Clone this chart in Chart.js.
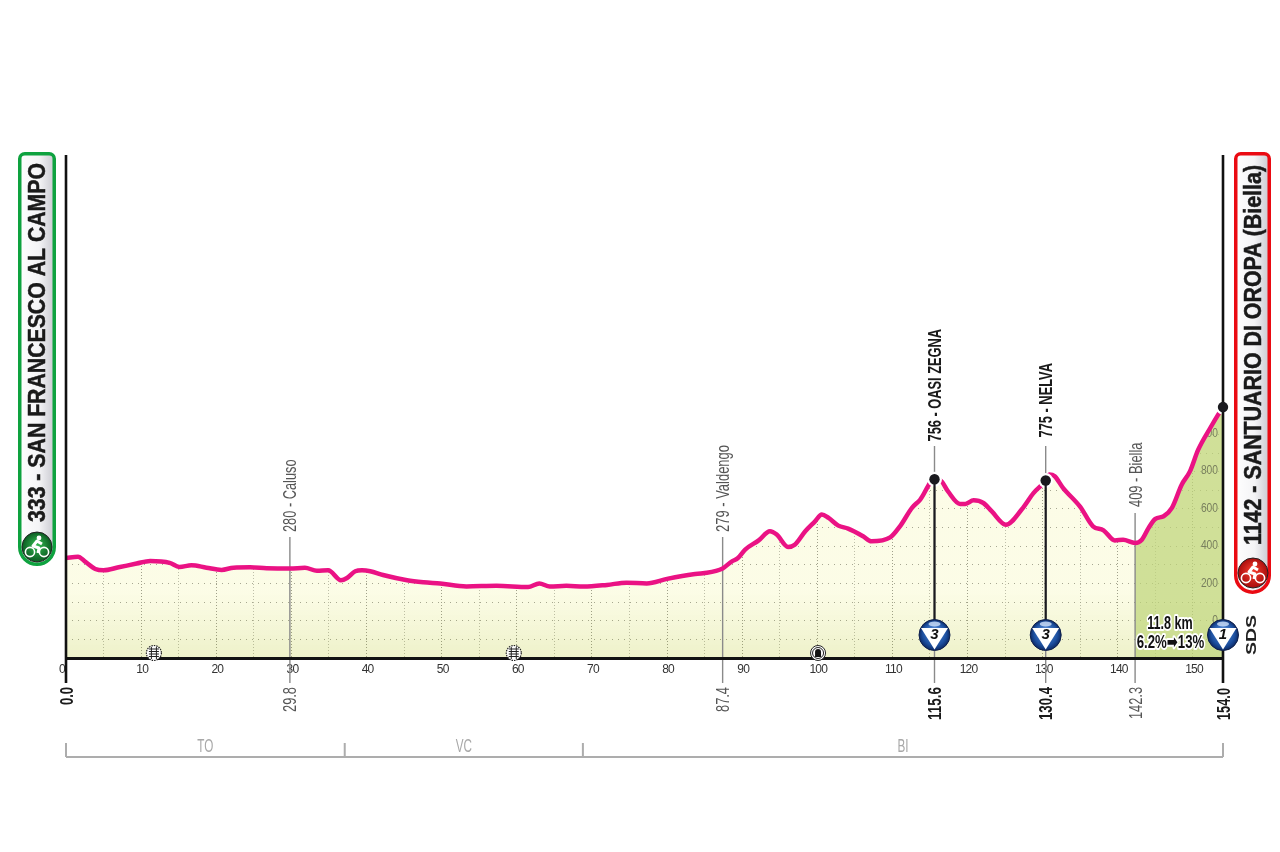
<!DOCTYPE html>
<html>
<head>
<meta charset="utf-8">
<title>Altimetria</title>
<script src="https://cdn.jsdelivr.net/npm/chart.js@4/dist/chart.umd.min.js"></script>
<style>
    html, body { margin: 0; padding: 0; background: #fff; }
    canvas { display: block; }
</style>
</head>
<body>
<canvas id="profile" width="1280" height="852"></canvas>
<script>
// Elevation profile: km from start / metres
const profileKm = [0, 1.6, 2.5, 3.9, 5, 7, 9.4, 11.2, 13.8, 15.1, 16.7, 18.7, 20.7, 22.3, 24.5, 26.7, 29.8, 31.8, 33.4, 34.9, 36.6, 37.4, 38.5, 39.4, 40.5, 42.2, 45.4, 47.6, 49.8, 53.3, 57.3, 61.5, 63, 64.4, 66.6, 68.9, 72, 74.6, 77.3, 80, 83.5, 84.8, 87.4, 88.6, 89.4, 90.4, 92.2, 93.7, 94.6, 96.1, 97, 98.4, 99.7, 100.6, 101.5, 102.8, 104.1, 106.1, 107.2, 109.7, 111, 112.6, 113.7, 115.6, 116.4, 117.4, 119, 119.7, 120.8, 122.1, 123.2, 125.1, 127.2, 128.8, 130.4, 130.9, 131.6, 132.7, 135, 136.7, 138.1, 139.6, 140.7, 142.3, 143.2, 144.1, 145, 146.1, 147.2, 148.5, 149.6, 150.7, 152.3, 153.5, 154];
const profileElev = [335, 342, 317, 276, 269, 285, 305, 319, 309, 287, 296, 283, 271, 283, 285, 280, 278, 283, 266, 269, 216, 228, 264, 269, 264, 244, 216, 205, 198, 183, 186, 180, 199, 182, 186, 182, 191, 203, 199, 223, 248, 253, 279, 316, 333, 380, 429, 478, 460, 394, 406, 478, 531, 568, 549, 508, 492, 451, 424, 445, 504, 603, 647, 756, 750, 691, 624, 624, 643, 629, 585, 513, 594, 683, 749, 782, 772, 710, 608, 504, 483, 429, 432, 415, 433, 496, 544, 558, 603, 727, 798, 914, 1030, 1111, 1142];

// Places along the route
const placeKm = [29.8, 87.4, 115.6, 130.4, 142.3];
const placeNames = ['280 - Caluso', '279 - Valdengo', '756 - OASI ZEGNA', '775 - NELVA', '409 - Biella'];
const placeKmLabels = ['29.8', '87.4', '115.6', '130.4', '142.3'];

// Summit dots
const summitKm = [115.6, 130.4, 154];
const summitElev = [756, 749, 1142];

// GPM climbs: category badge at the km
const climbKm = [115.6, 130.4, 154];
const climbCat = ['3', '3', '1'];

// Final climb band and provinces
const finalClimbStart = 142.3;
const provinceBreaks = [0, 37.1, 68.8, 154];
const provinceNames = ['TO', 'VC', 'BI'];

const railKm = [11.7, 59.6];
const tunnelKm = [100.1];

const xStep = 5;
const yStep = 100;
const altitudeTicks = [0, 200, 400, 600, 800, 1000];

const FONT = '"Liberation Sans", Arial, sans-serif';
const MAGENTA = '#ea1284';

const toPoints = (xs, ys) => xs.map((x, i) => ({ x, y: ys[i] }));
const allPoints = toPoints(profileKm, profileElev);

function creamFill(c) {
    const area = c.chart.chartArea;
    if (!area) return '#fdfdec';
    const g = c.chart.ctx.createLinearGradient(0, 470, 0, area.bottom);
    g.addColorStop(0, 'rgba(250,250,212,.55)');
    g.addColorStop(0.65, 'rgba(249,250,210,.55)');
    g.addColorStop(1, 'rgba(226,232,165,.6)');
    return g;
}

// Vertical text reading bottom to top; squeezed along its length to the measured size.
// The reference face is condensed and none of the installed ones is.
function vText(ctx, text, baseX, bottomY, length, font, color, thicken) {
    ctx.save();
    ctx.font = font;
    ctx.fillStyle = color;
    ctx.textAlign = 'left';
    ctx.textBaseline = 'alphabetic';
    ctx.translate(baseX, bottomY);
    ctx.rotate(-Math.PI / 2);
    ctx.scale(length / ctx.measureText(text).width, 1);
    ctx.fillText(text, 0, 0);
    if (thicken) {
        ctx.lineWidth = thicken;
        ctx.strokeStyle = color;
        ctx.strokeText(text, 0, 0);
    }
    ctx.restore();
}

function drawPill(ctx, x, y, w, h, border) {
    const g = ctx.createLinearGradient(x, 0, x + w, 0);
    g.addColorStop(0, '#ffffff');
    g.addColorStop(0.55, '#f4f4f6');
    g.addColorStop(1, '#c4c4cc');
    ctx.beginPath();
    ctx.roundRect(x + 1.75, y + 1.75, w - 3.5, h - 3.5, [5, 5, (w - 3.5) / 2, (w - 3.5) / 2]);
    ctx.fillStyle = g;
    ctx.fill();
    ctx.lineWidth = 3.5;
    ctx.strokeStyle = border;
    ctx.stroke();
}

function drawBikeBadge(ctx, x, y, light, dark) {
    const g = ctx.createRadialGradient(x, y - 3, 2, x, y, 15);
    g.addColorStop(0, light);
    g.addColorStop(1, dark);
    ctx.save();
    ctx.beginPath();
    ctx.arc(x, y, 15, 0, Math.PI * 2);
    ctx.fillStyle = g;
    ctx.fill();
    ctx.lineWidth = 1;
    ctx.strokeStyle = '#222';
    ctx.stroke();
    ctx.strokeStyle = '#fff';
    ctx.fillStyle = '#fff';
    ctx.lineWidth = 1.6;
    [-7, 7].forEach((dx) => {
        ctx.beginPath();
        ctx.arc(x + dx, y + 5, 4.6, 0, Math.PI * 2);
        ctx.stroke();
    });
    ctx.beginPath();
    ctx.arc(x + 2, y - 9, 2.4, 0, Math.PI * 2);
    ctx.fill();
    ctx.lineWidth = 3;
    ctx.lineJoin = 'round';
    ctx.beginPath();
    ctx.moveTo(x + 5, y - 3);
    ctx.lineTo(x, y - 6);
    ctx.lineTo(x - 4, y - 1);
    ctx.lineTo(x + 2, y + 1);
    ctx.lineTo(x + 1, y + 6);
    ctx.stroke();
    ctx.restore();
}

function drawClimbBadge(ctx, x, y, cat) {
    const r = 15.5;
    const g = ctx.createRadialGradient(x, y - 4, 3, x, y, r);
    g.addColorStop(0, '#4f86d2');
    g.addColorStop(0.7, '#1c4f9f');
    g.addColorStop(1, '#0c2a66');
    ctx.save();
    ctx.beginPath();
    ctx.arc(x, y, r, 0, Math.PI * 2);
    ctx.fillStyle = g;
    ctx.fill();
    ctx.lineWidth = 1;
    ctx.strokeStyle = '#10204a';
    ctx.stroke();
    ctx.beginPath();
    ctx.ellipse(x, y - 11, 6, 2.5, 0, 0, Math.PI * 2);
    ctx.fillStyle = 'rgba(220,235,255,.75)';
    ctx.fill();
    ctx.beginPath();
    ctx.moveTo(x - 13.5, y - 7);
    ctx.lineTo(x + 13.5, y - 7);
    ctx.lineTo(x, y + 14.5);
    ctx.closePath();
    ctx.fillStyle = '#fff';
    ctx.fill();
    ctx.fillStyle = '#111';
    ctx.font = 'italic bold 15px ' + FONT;
    ctx.textAlign = 'center';
    ctx.textBaseline = 'middle';
    ctx.fillText(cat, x, y);
    ctx.restore();
}

function drawRailIcon(ctx, x, y) {
    ctx.save();
    ctx.beginPath();
    ctx.arc(x, y, 7.5, 0, Math.PI * 2);
    ctx.fillStyle = '#fff';
    ctx.fill();
    ctx.lineWidth = 1.2;
    ctx.strokeStyle = '#222';
    ctx.setLineDash([1.5, 1]);
    ctx.stroke();
    ctx.setLineDash([]);
    ctx.lineWidth = 1;
    [-2.5, 2.5].forEach((dx) => {
        ctx.beginPath();
        ctx.moveTo(x + dx, y - 6);
        ctx.lineTo(x + dx, y + 6);
        ctx.stroke();
    });
    [-4, -1.5, 1, 3.5].forEach((dy) => {
        ctx.beginPath();
        ctx.moveTo(x - 5, y + dy);
        ctx.lineTo(x + 5, y + dy);
        ctx.stroke();
    });
    ctx.restore();
}

function drawTunnelIcon(ctx, x, y) {
    ctx.save();
    ctx.beginPath();
    ctx.arc(x, y, 7.5, 0, Math.PI * 2);
    ctx.fillStyle = '#fff';
    ctx.fill();
    ctx.lineWidth = 1;
    ctx.strokeStyle = '#222';
    ctx.stroke();
    ctx.beginPath();
    ctx.arc(x, y, 5.5, 0, Math.PI * 2);
    ctx.stroke();
    ctx.beginPath();
    ctx.moveTo(x - 3, y + 4);
    ctx.lineTo(x - 3, y - 1);
    ctx.arc(x, y - 1, 3, Math.PI, 0);
    ctx.lineTo(x + 3, y + 4);
    ctx.closePath();
    ctx.fillStyle = '#111';
    ctx.fill();
    ctx.restore();
}

// Tick labels are drawn with the scales, before the datasets: tighten just those
const tightTicks = {
    id: 'tightTicks',
    beforeDraw(chart) { chart.ctx.letterSpacing = '-0.8px'; },
    beforeDatasetsDraw(chart) { chart.ctx.letterSpacing = '0px'; },
};

// Altitude labels go over the green fill but under the white mask, which hides the "1" of 1000
const altitudeLabels = {
    id: 'altitudeLabels',
    afterDatasetDraw(chart, args) {
        if (args.index !== 1) return;
        const { ctx, scales } = chart;
        ctx.save();
        ctx.font = '12.5px ' + FONT;
        ctx.fillStyle = '#787f5e';
        ctx.textAlign = 'right';
        ctx.textBaseline = 'middle';
        altitudeTicks.forEach((v) => {
            ctx.save();
            ctx.translate(scales.x.right - 5, scales.y.getPixelForValue(v));
            ctx.scale(0.82, 1);
            ctx.fillText(String(v), 0, 0);
            ctx.restore();
        });
        ctx.restore();
    },
};

// Leader lines sit under the magenta line, so they go in just before it is drawn
const leaderLines = {
    id: 'leaderLines',
    beforeDatasetDraw(chart, args) {
        if (args.index !== 0) return;
        const { ctx, scales } = chart;
        const tops = [537, 537, 446, 446, 513];
        ctx.save();
        placeKm.forEach((km, i) => {
            const x = scales.x.getPixelForValue(km);
            ctx.beginPath();
            ctx.moveTo(x, tops[i]);
            ctx.lineTo(x, 683);
            ctx.lineWidth = 1.4;
            ctx.strokeStyle = '#8a8a8a';
            ctx.stroke();
        });
        ctx.restore();
    },
};

const decorations = {
    id: 'decorations',
    afterDraw(chart) {
        const { ctx, scales } = chart;
        const px = (km) => scales.x.getPixelForValue(km);

        // start and finish posts
        ctx.save();
        ctx.strokeStyle = '#111';
        ctx.lineWidth = 2.6;
        [0, 154].forEach((km) => {
            ctx.beginPath();
            ctx.moveTo(px(km), 155);
            ctx.lineTo(px(km), 683);
            ctx.stroke();
        });
        // thick stems from summit dots to badges
        ctx.lineWidth = 2.2;
        ctx.strokeStyle = '#1a1a1f';
        climbKm.slice(0, 2).forEach((km, i) => {
            ctx.beginPath();
            ctx.moveTo(px(km), scales.y.getPixelForValue(summitElev[i]));
            ctx.lineTo(px(km), 622);
            ctx.stroke();
        });
        ctx.restore();

        // summit dots again above the posts
        summitKm.forEach((km, i) => {
            ctx.beginPath();
            ctx.arc(px(km), scales.y.getPixelForValue(summitElev[i]), 5.2, 0, Math.PI * 2);
            ctx.fillStyle = '#1a1a1f';
            ctx.fill();
        });

        // start / finish pills
        drawPill(ctx, 18, 152, 38, 414, '#0ea23f');
        drawPill(ctx, 1234, 152, 37, 442, '#ea0a12');
        vText(ctx, '333 - SAN FRANCESCO AL CAMPO', 45, 522, 359, 'bold 23px ' + FONT, '#1a1a1a', 0.5);
        vText(ctx, '1142 - SANTUARIO DI OROPA (Biella)', 1261, 545, 380, 'bold 23px ' + FONT, '#1a1a1a', 0.5);
        drawBikeBadge(ctx, 37, 547, '#2fb24c', '#0b5a22');
        drawBikeBadge(ctx, 1253, 573, '#f0382a', '#a80d0d');

        // place names above, km below
        const strong = [false, false, true, true, false];
        const nameLen = [72.5, 87, 112.5, 74.5, 64.5];
        const kmLen = [25, 25, 33, 33, 32];
        const nameBottom = [532, 532, 441.5, 437.5, 507];
        placeKm.forEach((km, i) => {
            const x = px(km) + 6.5;
            const font = (strong[i] ? 'bold ' : '') + '19px ' + FONT;
            const color = strong[i] ? '#1a1a1a' : '#555';
            vText(ctx, placeNames[i], x, nameBottom[i], nameLen[i], font, color);
            vText(ctx, placeKmLabels[i], x, 687 + kmLen[i], kmLen[i], font, color);
        });
        vText(ctx, '0.0', px(0) + 6.5, 705, 18, 'bold 19px ' + FONT, '#1a1a1a');
        vText(ctx, '154.0', px(154) + 6.5, 720, 32, 'bold 19px ' + FONT, '#1a1a1a');

        // climb badges
        climbKm.forEach((km, i) => drawClimbBadge(ctx, px(km), 635, climbCat[i]));
        railKm.forEach((km) => drawRailIcon(ctx, px(km), 653));
        tunnelKm.forEach((km) => drawTunnelIcon(ctx, px(km), 653));

        // final climb caption
        ctx.save();
        ctx.textAlign = 'center';
        ctx.textBaseline = 'alphabetic';
        ctx.lineJoin = 'round';
        [['11.8 km', 1170, 629, 45.5], ['6.2%➡13%', 1170.5, 648, 67.5]].forEach(([text, x, y, w]) => {
            ctx.save();
            ctx.translate(x, y);
            ctx.font = 'bold 19px ' + FONT + ', "DejaVu Sans"';
            ctx.scale(w / ctx.measureText(text).width, 1);
            ctx.lineWidth = 4;
            ctx.strokeStyle = '#fff';
            ctx.strokeText(text, 0, 0);
            ctx.fillStyle = '#111';
            ctx.fillText(text, 0, 0);
            ctx.restore();
        });
        ctx.restore();

        vText(ctx, 'SDS', 1256, 655, 40, 'bold 15px ' + FONT, '#222');

        // province bracket
        ctx.save();
        ctx.strokeStyle = '#adadad';
        ctx.lineWidth = 2;
        ctx.beginPath();
        ctx.moveTo(px(0), 757);
        ctx.lineTo(px(154), 757);
        provinceBreaks.forEach((km) => {
            ctx.moveTo(px(km), 757);
            ctx.lineTo(px(km), 743);
        });
        ctx.stroke();
        ctx.fillStyle = '#a8a8a8';
        ctx.font = '18px ' + FONT;
        ctx.textAlign = 'center';
        ctx.textBaseline = 'alphabetic';
        provinceNames.forEach((name, i) => {
            ctx.save();
            ctx.translate((px(provinceBreaks[i]) + px(provinceBreaks[i + 1])) / 2, 752);
            ctx.scale(0.65, 1);
            ctx.fillText(name, 0, 0);
            ctx.restore();
        });
        ctx.restore();
    },
};

new Chart(document.getElementById('profile'), {
    type: 'line',
    data: {
        datasets: [
            // index 0 is the magenta line; leaderLines hooks on it
            { data: allPoints, borderColor: MAGENTA, borderWidth: 4.5, borderCapStyle: 'round', borderJoinStyle: 'round', pointRadius: 0, fill: false, cubicInterpolationMode: 'monotone', order: 0 },
            // index 1 is the green band; altitudeLabels hooks on it
            { data: allPoints.filter((p) => p.x >= finalClimbStart), borderWidth: 0, pointRadius: 0, fill: 'start', backgroundColor: 'rgba(190,212,120,.7)', cubicInterpolationMode: 'monotone', order: 2 },
            { data: allPoints, borderWidth: 0, pointRadius: 0, fill: 'start', backgroundColor: creamFill, cubicInterpolationMode: 'monotone', order: 3 },
            // white above the profile hides the grid there
            { data: allPoints, borderWidth: 0, pointRadius: 0, fill: 'end', backgroundColor: '#ffffff', cubicInterpolationMode: 'monotone', order: 1 },
            { data: toPoints(summitKm, summitElev), showLine: false, pointRadius: 6, pointBackgroundColor: '#1a1a1f', pointBorderColor: '#ffffff', pointBorderWidth: 3, clip: false, order: -1 },
        ],
    },
    plugins: [tightTicks, altitudeLabels, leaderLines, decorations],
    options: {
        responsive: false,
        animation: false,
        layout: { padding: { left: 66, right: 57, top: 155, bottom: 0 } },
        plugins: { legend: { display: false }, tooltip: { enabled: false } },
        scales: {
            x: {
                type: 'linear',
                min: 0,
                max: 154,
                afterFit: (scale) => { scale.height = 194; },
                border: { display: true, color: '#111', width: 3, z: 1, dash: [1, 2] },
                grid: { color: (c) => (c.tick.value % 10 === 0 ? '#333' : '#777'), lineWidth: 1, drawTicks: false },
                ticks: {
                    stepSize: xStep,
                    includeBounds: false,
                    autoSkip: false,
                    maxRotation: 0,
                    padding: 4,
                    labelOffset: 1,
                    color: '#333',
                    font: { family: FONT, size: 12 },
                    // trailing spaces push the 0 left of the start post
                    callback: (v) => (v === 0 ? '0    ' : (v % 10 === 0 ? String(v) : '')),
                },
            },
            y: {
                type: 'linear',
                position: 'right',
                min: -200,
                max: 2490,
                afterFit: (scale) => { scale.width = 0; },
                border: { display: false, dash: [1, 5] },
                grid: { color: '#444', lineWidth: 1, drawTicks: false },
                ticks: { display: false, stepSize: yStep, includeBounds: false, autoSkip: false },
            },
        },
    },
});
</script>
</body>
</html>
